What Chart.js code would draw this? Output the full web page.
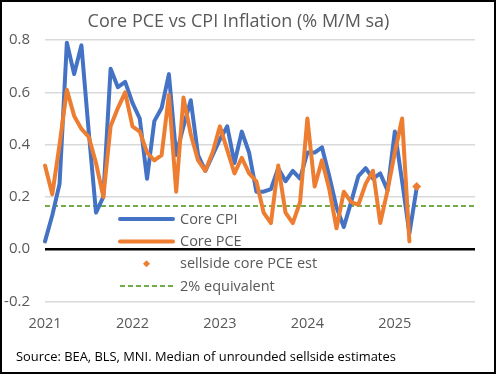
<!DOCTYPE html>
<html>
<head>
<meta charset="utf-8">
<script src="https://cdn.jsdelivr.net/npm/chart.js@4.4.1/dist/chart.umd.min.js"></script>
<style>
  html, body { margin: 0; padding: 0; background: #fff; }
  #wrap { width: 496px; height: 374px; }
</style>
</head>
<body>
<div id="wrap"><canvas id="chart" width="496" height="374"></canvas></div>
<script>
// Categories: one per month, year shown on January only
const years = [2021, 2022, 2023, 2024, 2025];
const monthNames = ["Jan", "Feb", "Mar", "Apr", "May", "Jun", "Jul", "Aug", "Sep", "Oct", "Nov", "Dec"];

// Core CPI, % m/m sa, Jan 2021 - Apr 2025
const coreCPI = [
    0.03, 0.13, 0.25, 0.79, 0.67, 0.78, 0.45, 0.14, 0.20, 0.69, 0.62, 0.64,
    0.56, 0.50, 0.27, 0.49, 0.54, 0.67, 0.36, 0.47, 0.57, 0.36, 0.30, 0.36,
    0.42, 0.47, 0.33, 0.45, 0.37, 0.22, 0.22, 0.23, 0.31, 0.26, 0.30, 0.27,
    0.37, 0.37, 0.39, 0.28, 0.16, 0.085, 0.18, 0.28, 0.31, 0.27, 0.29, 0.225,
    0.45, 0.26, 0.06, 0.235
];

// Core PCE, % m/m sa, Jan 2021 - Mar 2025
const corePCE = [
    0.32, 0.21, 0.40, 0.61, 0.51, 0.46, 0.43, 0.33, 0.20, 0.47, 0.54, 0.60,
    0.47, 0.45, 0.37, 0.34, 0.36, 0.59, 0.22, 0.58, 0.44, 0.34, 0.30, 0.37,
    0.47, 0.38, 0.29, 0.35, 0.29, 0.26, 0.14, 0.10, 0.32, 0.14, 0.10, 0.18,
    0.50, 0.24, 0.34, 0.23, 0.08, 0.22, 0.18, 0.17, 0.25, 0.30, 0.10, 0.225,
    0.37, 0.50, 0.03
];

// Sellside estimate for the next core PCE print
const sellsideMonth = "Apr 2025";
const sellsideEst = 0.24;

// 2% annual rate expressed as a monthly change
const twoPctEquiv = 0.165;

const sourceNote = "Source: BEA, BLS, MNI. Median of unrounded sellside estimates";

const labels = [];
years.forEach(y => monthNames.forEach(m => labels.push(`${m} ${y}`)));

const FONT = "'Open Sans', 'DejaVu Sans', sans-serif";
const TEXT = "#595959";

// Legend drawn inside the plot area, like the original
const plotLegend = {
    id: "plotLegend",
    afterDatasetsDraw(chart) {
        const { ctx, chartArea } = chart;
        const x0 = chartArea.left + 75;
        const x1 = chartArea.left + 128;
        const tx = chartArea.left + 135;
        const rowTop = chartArea.top + 179;
        const rowGap = 22.3;

        ctx.save();
        ctx.font = `14.5px ${FONT}`;
        ctx.textBaseline = "middle";
        chart.data.datasets.forEach((ds, i) => {
            const y = rowTop + i * rowGap;
            if (ds.showLine === false) {
                const r = 3.5;
                const cx = (x0 + x1) / 2;
                ctx.fillStyle = ds.backgroundColor;
                ctx.beginPath();
                ctx.moveTo(cx, y - r);
                ctx.lineTo(cx + r, y);
                ctx.lineTo(cx, y + r);
                ctx.lineTo(cx - r, y);
                ctx.closePath();
                ctx.fill();
            } else {
                ctx.strokeStyle = ds.borderColor;
                ctx.lineWidth = ds.borderWidth;
                ctx.lineCap = ds.borderDash ? "butt" : "round";
                ctx.setLineDash(ds.borderDash || []);
                ctx.beginPath();
                ctx.moveTo(x0, y);
                ctx.lineTo(x1, y);
                ctx.stroke();
                ctx.setLineDash([]);
            }
            ctx.fillStyle = TEXT;
            ctx.fillText(ds.label, tx, y + 0.5);
        });
        ctx.restore();
    }
};

// White background, source note and the black frame round the whole chart
const frame = {
    id: "frame",
    beforeDraw(chart) {
        const { ctx, width, height } = chart;
        ctx.save();
        ctx.fillStyle = "#fff";
        ctx.fillRect(0, 0, width, height);
        ctx.restore();
    },
    afterDraw(chart) {
        const { ctx, width, height } = chart;
        ctx.save();
        ctx.font = `12.9px ${FONT}`;
        ctx.fillStyle = "#000";
        ctx.textBaseline = "middle";
        ctx.fillText(sourceNote, 16, 357);
        ctx.strokeStyle = "#000";
        ctx.lineWidth = 2;
        ctx.strokeRect(1, 1, width - 2, height - 2);
        ctx.restore();
    }
};

const ctx = document.getElementById("chart").getContext("2d");

new Chart(ctx, {
    type: "line",
    data: {
        labels: labels,
        datasets: [
            {
                label: "Core CPI",
                data: coreCPI,
                borderColor: "#4472C4",
                backgroundColor: "#4472C4",
                borderWidth: 4,
                pointRadius: 0,
                tension: 0,
                borderJoinStyle: "round",
                borderCapStyle: "round",
                order: 2
            },
            {
                label: "Core PCE",
                data: corePCE,
                borderColor: "#ED7D31",
                backgroundColor: "#ED7D31",
                borderWidth: 4,
                pointRadius: 0,
                tension: 0,
                borderJoinStyle: "round",
                borderCapStyle: "round",
                order: 1
            },
            {
                label: "sellside core PCE est",
                data: [{ x: sellsideMonth, y: sellsideEst }],
                showLine: false,
                borderColor: "#ED7D31",
                backgroundColor: "#ED7D31",
                pointStyle: "rectRot",
                pointRadius: 4.5,
                pointBorderWidth: 0,
                order: 0
            },
            {
                label: "2% equivalent",
                data: [
                    { x: labels[0], y: twoPctEquiv },
                    { x: labels[labels.length - 1], y: twoPctEquiv }
                ],
                borderColor: "#70AD47",
                backgroundColor: "#70AD47",
                borderWidth: 2,
                borderDash: [5, 3],
                pointRadius: 0,
                order: 3
            }
        ]
    },
    options: {
        responsive: false,
        animation: false,
        layout: {
            padding: { left: 2, right: 21, top: 0, bottom: 28 }
        },
        plugins: {
            legend: { display: false },
            tooltip: { enabled: false },
            title: {
                display: true,
                text: "Core PCE vs CPI Inflation (% M/M sa)",
                color: TEXT,
                font: { family: FONT, size: 18, weight: "normal" },
                padding: { top: 11, bottom: 7.5 }
            }
        },
        scales: {
            x: {
                type: "category",
                offset: false,
                grid: { display: false, drawTicks: false },
                border: { display: false },
                ticks: {
                    autoSkip: false,
                    maxRotation: 0,
                    minRotation: 0,
                    padding: 14,
                    color: TEXT,
                    font: { family: FONT, size: 14.5 },
                    callback: (value, index) => {
                        const label = labels[index];
                        return label.startsWith("Jan") ? label.slice(4) : "";
                    }
                },
                afterFit: (scale) => { scale.height = 44.5; }
            },
            y: {
                min: -0.2,
                max: 0.8,
                grid: {
                    drawTicks: false,
                    color: (c) => Math.abs(c.tick.value) < 1e-9 ? "#000" : "#D9D9D9",
                    lineWidth: (c) => Math.abs(c.tick.value) < 1e-9 ? 2.5 : 1.5
                },
                border: { display: false },
                ticks: {
                    stepSize: 0.2,
                    padding: 15,
                    color: TEXT,
                    font: { family: FONT, size: 15 },
                    callback: (value) => value.toFixed(1)
                },
                afterFit: (scale) => { scale.width = 43; }
            }
        }
    },
    plugins: [plotLegend, frame]
});
</script>
</body>
</html>
